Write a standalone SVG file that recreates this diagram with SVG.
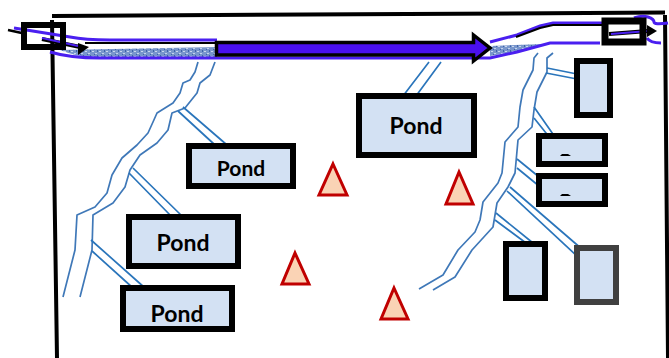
<svg xmlns="http://www.w3.org/2000/svg" width="669" height="358" viewBox="0 0 669 358">
<style>
.pond{fill:#d3e1f3;stroke:#000;stroke-width:6}
.lbl{font-family:Lato,"Liberation Sans",sans-serif;font-weight:700;font-size:23px;fill:#000;text-anchor:middle}
.river{fill:none;stroke:#3f78b8;stroke-width:1.7;stroke-linejoin:round}
.pipe{fill:none;stroke:#2a75bb;stroke-width:1.7}
.tri{fill:#fad3b5;stroke:#c00000;stroke-width:3}
.chan{fill:none;stroke:#4a1ff0;stroke-width:3}
.frame{fill:none;stroke:#000;stroke-width:4}
</style>
<defs>
<pattern id="sp" width="7" height="5" patternUnits="userSpaceOnUse">
<rect width="7" height="5" fill="#7896cc"/>
<rect x="1" y="1" width="2" height="1" fill="#c9d7ee"/>
<rect x="4" y="3" width="2" height="1" fill="#c4d3ec"/>
<rect x="3" y="4" width="1" height="1" fill="#3f63a8"/>
<rect x="6" y="0" width="1" height="2" fill="#3f63a8"/>
</pattern>
</defs>
<g id="frame">
<path class="frame" d="M52 16L665 12.500M52 20L57 358M665 15L668 358"/>
</g>
<g id="connectors">
<path fill="url(#sp)" d="M60 50L217 47V57H90Q75 56 60 50Z"/>
<path fill="url(#sp)" d="M490 46L544 44Q525 48 515 52L490 56Z"/>
<path d="M8 30L24 33.500" stroke="#000" stroke-width="2.500" fill="none"/>
<path class="chan" d="M14 28L70 37Q85 40 110 40H217"/>
<path d="M85 43H217" stroke="#000" stroke-width="2" fill="none"/>
<path class="chan" d="M50 52Q70 58 100 58H490L517 52L550 43H600"/>
<path class="chan" d="M490 42L517 35L540 26L553 23H603"/>
<path class="chan" d="M634 18Q642 15 648 17T654 22T668 23M647 38Q650 43 661 43"/>
<path d="M516 37L540 28L553 25H603" stroke="#000" stroke-width="2" fill="none"/>
<path d="M42 39L80 47" stroke="#000" stroke-width="4" fill="none"/>
<path d="M78 43L89 47L78 55Z" fill="#000"/>
<path d="M42 38L78 46" stroke="#4a1ff0" stroke-width="2" fill="none"/>
<path d="M216.500 42.500H473.500V35L490 48L473.500 61V55H216.500Z" fill="#4a10f0" stroke="#000" stroke-width="3.500"/>
<path d="M609 34L648 31" stroke="#000" stroke-width="4" fill="none"/>
<path d="M611 34L648 31" stroke="#4a1ff0" stroke-width="2" fill="none"/>
<path d="M647 25L657 31L647 37Z" fill="#000"/>
<polyline class="river" points="198,62 195,72 190,80 183,83 180,93 173,103 157,113 153,122 148,133 137,145 122,158 112,175 107,193 95,207 77,215 75,250 63,297"/>
<polyline class="river" points="215,62 210,75 200,83 197,93 185,108 172,113 168,130 157,143 140,155 130,170 125,187 113,203 93,215 92,250 80,297"/>
<polyline class="river" points="538,53 534,58 533,70 523,90 520,107 518,127 505,142 502,173 498,183 483,202 480,220 475,232 458,250 443,275 419,289"/>
<polyline class="river" points="553,53 547,58 547,72 537,92 534,110 532,127 518,140 515,173 508,187 497,203 493,227 472,250 455,277 433,290"/>
<path class="pipe" d="M183 107L227 145M178 111L215 145M133 168L183 217M129 173L172 217M91 240L145 288M92 251L133 288"/>
<path class="pipe" d="M429 62L403 96M441 62L416 96"/>
<path class="pipe" d="M547 68L577 74M546 73L577 79M534 107L555 137M534 118L550 138M517 159L544 181M517 168L539 186M510 187L583 250M507 191L578 257M496 213L533 243M495 220L526 243"/>
</g>
<g id="pond1"><rect class="pond" x="189" y="146" width="104" height="40"/><text class="lbl" x="241" y="176" style="font-size:21px">Pond</text></g>
<g id="pond2"><rect class="pond" x="129" y="217" width="109" height="49"/><text class="lbl" x="183" y="251">Pond</text></g>
<g id="pond3"><rect class="pond" x="123" y="288" width="109" height="41"/><text class="lbl" x="177" y="322">Pond</text></g>
<g id="pond4"><rect class="pond" x="359" y="96" width="115" height="59"/><text class="lbl" x="416" y="134">Pond</text></g>
<g id="pond5"><rect class="pond" x="577" y="61" width="33" height="54"/></g>
<g id="pond6"><rect class="pond" x="539" y="136" width="66" height="28"/><path d="M560 156L562 154H568L571 156Z" fill="#000"/></g>
<g id="pond7"><rect class="pond" x="539" y="176" width="66" height="28"/><path d="M560 196L562 194H568L571 196Z" fill="#000"/></g>
<g id="pond8"><rect class="pond" x="506" y="244" width="39" height="54"/></g>
<g id="pond9"><rect class="pond" x="577" y="248" width="39" height="54" style="stroke:#404040"/></g>
<g id="gate-left"><rect x="24" y="25" width="39" height="22" fill="none" stroke="#000" stroke-width="6"/></g>
<g id="gate-right"><rect x="605" y="21" width="38" height="21" fill="none" stroke="#000" stroke-width="7"/></g>
<g id="tri1"><path class="tri" d="M333 164L347 195H319Z"/></g>
<g id="tri2"><path class="tri" d="M459 172L473 204H446Z"/></g>
<g id="tri3"><path class="tri" d="M295 253L309 284H282Z"/></g>
<g id="tri4"><path class="tri" d="M394 288L408 319H381Z"/></g>
</svg>
